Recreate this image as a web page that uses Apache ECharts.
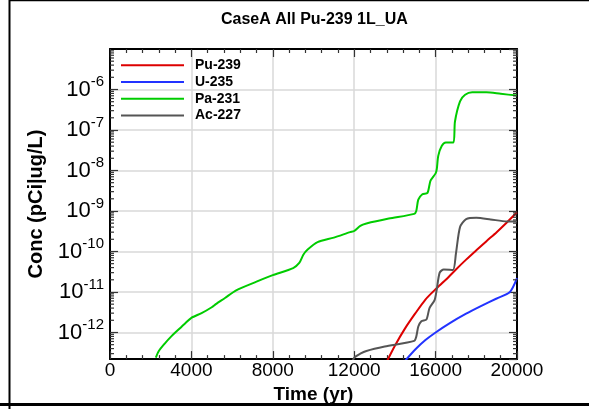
<!DOCTYPE html>
<html lang="en">
<head>
    <meta charset="UTF-8">
    <title>CaseA All Pu-239 1L_UA</title>
    <style type="text/css">
        *{
            margin: 0;
            padding: 0;
        }
        #main{
            width: 589px;
            height: 409px;
            position: absolute;
            background: #ffffff;
        }
    </style>
</head>
<body>
    <div id="main"></div>
    <script src="https://cdn.jsdelivr.net/npm/echarts@6/dist/echarts.min.js"></script>
    <script type="text/javascript">
        var myChart = echarts.init(document.getElementById('main'));

        // series names and colours
        var names = ['Pu-239', 'U-235', 'Pa-231', 'Ac-227'];
        var colors = ['#dd0000', '#2233ff', '#00cc00', '#555555'];

        // [time (yr), conc]
        var pu239 = [
            [13600, 1.9e-13], [14000, 4.7e-13], [14500, 1.26e-12], [15000, 2.95e-12],
            [15500, 6.5e-12], [16000, 1.17e-11], [16500, 2.0e-11], [17000, 3.6e-11],
            [17500, 6.3e-11], [18000, 1.07e-10], [18500, 1.8e-10], [19000, 3.0e-10],
            [19500, 5.2e-10], [20000, 9.3e-10]
        ];
        var u235 = [
            [14500, 2.0e-13], [15000, 3.8e-13], [15500, 6.5e-13], [16000, 1.0e-12],
            [16700, 1.7e-12], [17500, 2.9e-12], [18200, 4.4e-12], [19000, 6.9e-12],
            [19650, 1.0e-11], [20000, 2.2e-11]
        ];
        var pa231 = [
            [2250, 2.4e-13], [2400, 3.5e-13], [2700, 5.4e-13], [3000, 7.9e-13],
            [3300, 1.1e-12], [3700, 1.7e-12], [4000, 2.3e-12], [4500, 3.0e-12],
            [5000, 4.2e-12], [5200, 5.0e-12], [5650, 7.1e-12], [6200, 1.1e-11],
            [7200, 1.8e-11], [8000, 2.6e-11], [9000, 3.9e-11], [9300, 5.2e-11],
            [9500, 8.3e-11], [9700, 1.1e-10], [10200, 1.7e-10], [11000, 2.2e-10],
            [11800, 3.0e-10], [12000, 3.2e-10], [12300, 4.3e-10], [12600, 4.9e-10],
            [13700, 6.5e-10], [14950, 8.5e-10], [15050, 1.0e-9], [15150, 1.9e-9],
            [15350, 2.6e-9], [15600, 2.8e-9], [15750, 5.6e-9], [16000, 8.5e-9],
            [16060, 1.1e-8], [16130, 2.3e-8], [16300, 4.0e-8], [16500, 4.9e-8],
            [16870, 4.9e-8], [16950, 1.6e-7], [17200, 5.1e-7], [17450, 7.4e-7],
            [17800, 8.5e-7], [18500, 8.5e-7], [19200, 7.8e-7], [20000, 7.1e-7]
        ];
        var ac227 = [
            [11900, 1.8e-13], [12000, 2.4e-13], [12300, 3.0e-13], [12600, 3.5e-13],
            [13500, 4.5e-13], [14950, 6.2e-13], [15050, 7.9e-13], [15150, 1.4e-12],
            [15300, 1.9e-12], [15550, 2.1e-12], [15700, 4.0e-12], [15950, 6.3e-12],
            [16050, 1.1e-11], [16200, 3.0e-11], [16400, 3.6e-11], [16850, 3.5e-11],
            [17000, 8.9e-11], [17200, 4.0e-10], [17500, 6.3e-10], [18000, 6.8e-10],
            [18700, 6.2e-10], [19500, 5.5e-10], [20000, 5.5e-10]
        ];
        var seriesData = [pu239, u235, pa231, ac227];

        // axis ranges and ticks
        var xMin = 0, xMax = 20000, xStep = 4000;
        var yMin = 2.2e-13, yMax = 1e-5;
        var decades = [-13, -12, -11, -10, -9, -8, -7, -6];
        var minorSteps = [2, 3, 4, 5, 6, 7, 8, 9];

        var minorTicks = [];
        decades.forEach(function (d) {
            minorSteps.forEach(function (m) {
                var v = m * Math.pow(10, d);
                if (v > yMin && v < yMax) minorTicks.push([xMin, v]);
            });
        });

        var font = 'Liberation Sans, Arial, sans-serif';

        function xAxisCfg(pos, labels) {
            return {
                type: 'value', position: pos, min: xMin, max: xMax, interval: xStep,
                axisLine: {show: true, onZero: false, lineStyle: {color: '#000', width: 2}},
                axisTick: {show: true, inside: true, length: 8, lineStyle: {color: '#333', width: 1.2}},
                minorTick: {show: true, splitNumber: 5, length: 4, lineStyle: {color: '#333', width: 1.2}},
                splitLine: {show: labels, lineStyle: {color: '#d8d8d8', width: 1.5}},
                axisLabel: {
                    show: labels, color: '#000', fontSize: 19, fontFamily: font, margin: 2,
                    formatter: function (v) { return String(v); }
                },
                name: labels ? 'Time (yr)' : '',
                nameLocation: 'middle', nameGap: 21,
                nameTextStyle: {color: '#000', fontSize: 19, fontWeight: 'bold', fontFamily: font}
            };
        }

        function yAxisCfg(pos, labels) {
            return {
                type: 'log', logBase: 10, position: pos, min: yMin, max: yMax,
                axisLine: {show: true, onZero: false, lineStyle: {color: '#000', width: 2}},
                axisTick: {show: true, inside: true, length: 8, lineStyle: {color: '#333', width: 1.2}},
                splitLine: {show: labels, lineStyle: {color: '#d8d8d8', width: 1.5}},
                axisLabel: {
                    show: labels, showMinLabel: false, showMaxLabel: false,
                    margin: 6, padding: [0, 0, 4, 0],
                    formatter: function (v) {
                        return '{b|10}{s|' + Math.round(Math.log10(v)) + '}';
                    },
                    rich: {
                        b: {fontSize: 22, fontFamily: font, color: '#000', padding: [4, 0, 0, 0]},
                        s: {fontSize: 15, fontFamily: font, color: '#000', verticalAlign: 'top'}
                    }
                },
                name: labels ? 'Conc (pCi|ug/L)' : '',
                nameLocation: 'middle', nameGap: 64,
                nameTextStyle: {color: '#000', fontSize: 20, fontWeight: 'bold', fontFamily: font}
            };
        }

        var series = names.map(function (n, i) {
            return {
                name: n, type: 'line', data: seriesData[i],
                xAxisIndex: 0, yAxisIndex: 0,
                symbol: 'none', smooth: 0.25,
                lineStyle: {color: colors[i], width: 2},
                itemStyle: {color: colors[i]},
                z: 3
            };
        });

        // log minor ticks on left and right edges
        series.push({
            type: 'custom', name: 'minor', data: minorTicks,
            xAxisIndex: 0, yAxisIndex: 0, silent: true, z: 4,
            renderItem: function (params, api) {
                var v = api.value(1);
                var pl = api.coord([xMin, v]);
                var pr = api.coord([xMax, v]);
                var st = {stroke: '#333', lineWidth: 1.2};
                return {
                    type: 'group',
                    children: [
                        {type: 'line', shape: {x1: pl[0], y1: pl[1], x2: pl[0] + 4, y2: pl[1]}, style: st},
                        {type: 'line', shape: {x1: pr[0] - 4, y1: pr[1], x2: pr[0], y2: pr[1]}, style: st}
                    ]
                };
            }
        });

        var option = {
            animation: false,
            backgroundColor: '#ffffff',
            title: {
                text: 'CaseA All Pu-239 1L_UA',
                left: 216, top: 7,
                textStyle: {color: '#000', fontSize: 16, fontWeight: 'bold', fontFamily: font}
            },
            legend: {
                data: names,
                orient: 'vertical',
                left: 121, top: 57, padding: 0,
                icon: 'rect',
                itemWidth: 63, itemHeight: 2, itemGap: 0,
                textStyle: {
                    color: '#000', fontSize: 14, fontWeight: 'bold', fontFamily: font,
                    lineHeight: 16.7, padding: [0, 0, 0, 6]
                }
            },
            grid: {left: 110, right: 72, top: 49, bottom: 49.5},
            xAxis: [xAxisCfg('bottom', true), xAxisCfg('top', false)],
            yAxis: [yAxisCfg('left', true), yAxisCfg('right', false)],
            series: series,
            graphic: [
                {type: 'line', shape: {x1: 9.5, y1: 0, x2: 9.5, y2: 409}, style: {stroke: '#000', lineWidth: 2}},
                {type: 'line', shape: {x1: 9, y1: 0.5, x2: 589, y2: 0.5}, style: {stroke: '#000', lineWidth: 1.5}},
                {type: 'line', shape: {x1: 0, y1: 404.5, x2: 589, y2: 404.5}, style: {stroke: '#000', lineWidth: 3}}
            ]
        };

        myChart.setOption(option);
    </script>
</body>
</html>
